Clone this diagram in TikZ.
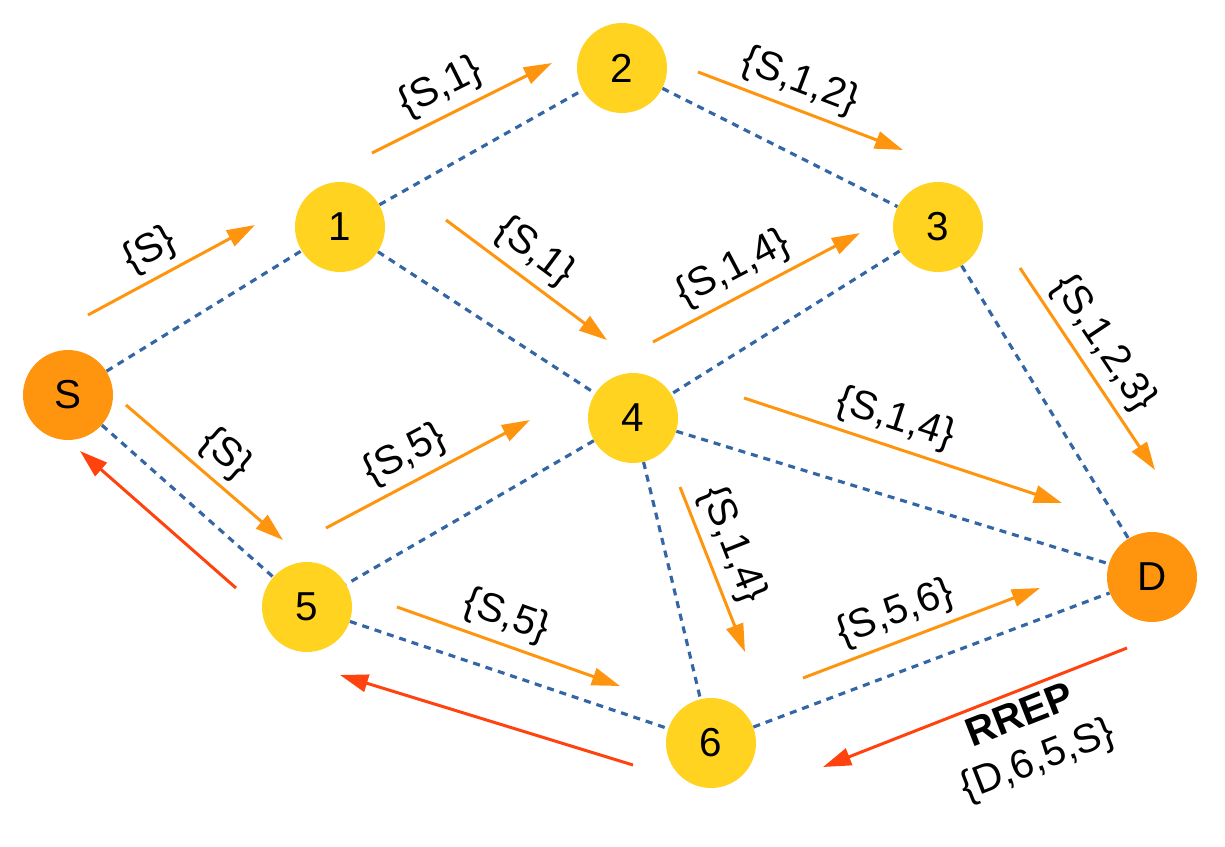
\documentclass[tikz,border=0pt]{standalone}
\usepackage{fontspec}
\setmainfont{Liberation Sans}
\usetikzlibrary{arrows.meta}

\definecolor{hopyellow}{HTML}{FFD320}
\definecolor{endorange}{HTML}{FF950E}
\definecolor{reqorange}{HTML}{FF950E}
\definecolor{repred}{HTML}{FF420E}
\definecolor{linkblue}{HTML}{3465A4}

\tikzset{
  hop/.style={circle, fill=hopyellow, minimum size=1.8cm, inner sep=0pt,
    font=\fontsize{23}{27}\selectfont},
  endpt/.style={hop, fill=endorange},
  link/.style={linkblue, line width=1.8pt, dash pattern=on 4pt off 3.4pt},
  req/.style={reqorange, line width=1.7pt, -{Triangle[length=16pt,width=10pt]}},
  rep/.style={repred, line width=1.7pt, -{Triangle[length=16pt,width=10pt]}},
  lbl/.style={sloped, pos=0.45, inner sep=4pt, text=black,
    font=\fontsize{23}{28}\selectfont}
}

\begin{document}
\begin{tikzpicture}[x=0.02cm, y=-0.02cm]
    \useasboundingbox (0,0) rectangle (1225,846);

    % Nodes
    \node[endpt] (S) at (68,395) {S};
    \node[hop] (n1) at (340,227) {1};
    \node[hop] (n2) at (622,68) {2};
    \node[hop] (n3) at (938,227) {3};
    \node[hop] (n4) at (633,418) {4};
    \node[hop] (n5) at (307,607) {5};
    \node[hop] (n6) at (711,743) {6};
    \node[endpt] (D) at (1152,577) {D};

    % Radio links
    \draw[link] (S) -- (n1);
    \draw[link] (S) -- (n5);
    \draw[link] (n1) -- (n2);
    \draw[link] (n1) -- (n4);
    \draw[link] (n2) -- (n3);
    \draw[link] (n3) -- (n4);
    \draw[link] (n3) -- (D);
    \draw[link] (n4) -- (n5);
    \draw[link] (n4) -- (n6);
    \draw[link] (n4) -- (D);
    \draw[link] (n5) -- (n6);
    \draw[link] (n6) -- (D);

    % Ends of the message arrows
    \coordinate (qS1a) at (88,315);   \coordinate (qS1b) at (255,225);
    \coordinate (q12a) at (372,153);  \coordinate (q12b) at (552,63);
    \coordinate (q23a) at (698,72);   \coordinate (q23b) at (903,150);
    \coordinate (q14a) at (446,220);  \coordinate (q14b) at (607,340);
    \coordinate (q43a) at (653,342);  \coordinate (q43b) at (860,233);
    \coordinate (q3Da) at (1020,268); \coordinate (q3Db) at (1155,470);
    \coordinate (qS5a) at (126,405);  \coordinate (qS5b) at (283,540);
    \coordinate (q54a) at (326,528);  \coordinate (q54b) at (530,420);
    \coordinate (q4Da) at (744,398);  \coordinate (q4Db) at (1062,503);
    \coordinate (q46a) at (680,487);  \coordinate (q46b) at (745,652);
    \coordinate (q56a) at (397,607);  \coordinate (q56b) at (620,686);
    \coordinate (q6Da) at (803,678);  \coordinate (q6Db) at (1040,588);
    \coordinate (p5Sa) at (236,588);  \coordinate (p5Sb) at (80,451);
    \coordinate (p65a) at (633,765);  \coordinate (p65b) at (340,675);
    \coordinate (pD6a) at (1127,648); \coordinate (pD6b) at (823,767);

    % Route requests
    \draw[req] (qS1a) -- (qS1b) node[lbl, above] {\{S\}};
    \draw[req] (q12a) -- (q12b) node[lbl, above] {\{S,1\}};
    \draw[req] (q23a) -- (q23b) node[lbl, above] {\{S,1,2\}};
    \draw[req] (q14a) -- (q14b) node[lbl, above] {\{S,1\}};
    \draw[req] (q43a) -- (q43b) node[lbl, above] {\{S,1,4\}};
    \draw[req] (q3Da) -- (q3Db) node[lbl, above] {\{S,1,2,3\}};
    \draw[req] (qS5a) -- (qS5b) node[lbl, above, pos=0.52] {\{S\}};
    \draw[req] (q54a) -- (q54b) node[lbl, above] {\{S,5\}};
    \draw[req] (q4Da) -- (q4Db) node[lbl, above] {\{S,1,4\}};
    \draw[req] (q46a) -- (q46b) node[lbl, above, pos=0.41] {\{S,1,4\}};
    \draw[req] (q56a) -- (q56b) node[lbl, above] {\{S,5\}};
    \draw[req] (q6Da) -- (q6Db) node[lbl, above, pos=0.43] {\{S,5,6\}};

    % Route reply
    \draw[rep] (p5Sa) -- (p5Sb);
    \draw[rep] (p65a) -- (p65b);
    \draw[rep] (pD6a) -- (pD6b)
        node[lbl, below, pos=0.38, align=center,
          font=\fontsize{23}{27}\selectfont] {\textbf{RREP}\\\{D,6,5,S\}};
\end{tikzpicture}
\end{document}
